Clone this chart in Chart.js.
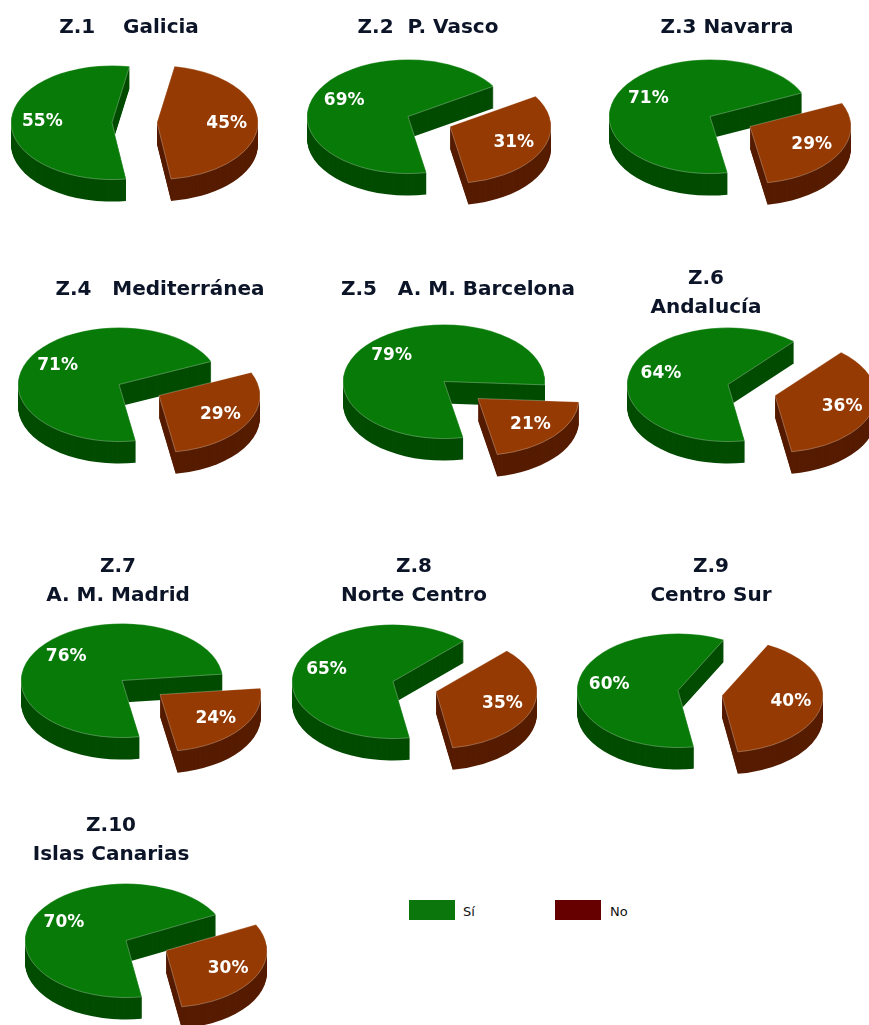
<!DOCTYPE html>
<html><head><meta charset="utf-8">
<script src="https://cdn.jsdelivr.net/npm/chart.js@4"></script>
<style>
html,body{margin:0;padding:0;background:#fff;width:869px;height:1025px;overflow:hidden}
canvas{position:absolute;filter:blur(0.45px)}
.lg{position:absolute;top:900px;width:46px;height:20px;filter:blur(0.4px)}
.lt{position:absolute;top:902px;font:13px/20px "DejaVu Sans",sans-serif;color:#111}
</style></head><body>
<div class="lg" style="left:409px;background:#0b760b"></div><div class="lt" style="left:463px">Sí</div>
<div class="lg" style="left:555px;background:#660000"></div><div class="lt" style="left:610px">No</div>
<script>
const categories = ["Sí", "No"];
const siValues = [55, 69, 71, 71, 79, 64, 76, 65, 60, 70];
const noValues = [45, 31, 29, 29, 21, 36, 24, 35, 40, 30];
const titles = [
  "Z.1    Galicia", "Z.2  P. Vasco", "Z.3 Navarra", "Z.4   Mediterránea", "Z.5   A. M. Barcelona",
  ["Z.6", "Andalucía"], ["Z.7", "A. M. Madrid"], ["Z.8", "Norte Centro"], ["Z.9", "Centro Sur"], ["Z.10", "Islas Canarias"]
];
// Layout: rotation of the first slice, slice anchors, title anchors
const rotations = [172, 169.5, 170, 170.5, 169, 170.5, 170, 170.5, 171, 171];
const siAnchors = [[112,122],[408,116],[710,116],[119,384],[444,381],[728,384],[122,680],[393,681],[678,690],[126,940]];
const noAnchors = [[157,122],[450,126],[750,126],[159,395],[478,398],[775,395],[160,694],[436,691],[722,695],[166,950]];
const titleX = [129,428,727,160,458,706,118,414,711,111];
const titleY = [27,27,27,289,289,278,566,566,566,825];

const R = 101, SQUASH = 0.565, DEPTH = 22, W = 340, H = 250;
const TOP = ["#087a08", "#953a02"], SIDE = ["#024c02", "#561c00"];
const FONT = '"DejaVu Sans", sans-serif';

function wedge(ctx, arc, ox, oy) {
  ctx.save();
  ctx.translate(ox, oy);
  ctx.scale(1, SQUASH);
  ctx.beginPath();
  ctx.moveTo(0, 0);
  ctx.arc(0, 0, arc.outerRadius, arc.startAngle, arc.endAngle);
  ctx.closePath();
  ctx.restore();
}

const pie3d = {
  id: "pie3d",
  beforeDatasetsDraw(chart, args, opts) {
    const ctx = chart.ctx, arcs = chart.getDatasetMeta(0).data;
    const anchors = opts.anchors.map(a => [a[0] - opts.left, a[1] - opts.top]);
    arcs.forEach((arc, i) => {
      const [ax, ay] = anchors[i];
      ctx.fillStyle = SIDE[i];
      for (let d = DEPTH; d >= 1; d--) { wedge(ctx, arc, ax, ay + d); ctx.fill(); }
      wedge(ctx, arc, ax, ay);
      ctx.fillStyle = TOP[i];
      ctx.fill();
      ctx.lineWidth = 1;
      ctx.strokeStyle = "rgba(255,255,255,0.28)";
      ctx.stroke();
    });
    arcs.forEach((arc, i) => {
      const [ax, ay] = anchors[i];
      const mid = (arc.startAngle + arc.endAngle) / 2, r = arc.outerRadius * 0.69;
      ctx.font = "bold 17px " + FONT;
      ctx.fillStyle = "#fff";
      ctx.textAlign = "center";
      ctx.textBaseline = "middle";
      ctx.fillText(chart.data.datasets[0].data[i] + "%", ax + Math.cos(mid) * r, ay + Math.sin(mid) * r * SQUASH);
    });
    return false;
  }
};

titles.forEach((t, i) => {
  const c = document.createElement("canvas");
  c.width = W; c.height = H;
  const left = titleX[i] - W / 2, top = titleY[i] - 14.5;
  c.style.left = left + "px"; c.style.top = top + "px";
  c.style.width = W + "px"; c.style.height = H + "px";
  document.body.appendChild(c);
  new Chart(c, {
    type: "pie",
    data: { labels: categories, datasets: [{ data: [siValues[i], noValues[i]], backgroundColor: TOP, borderWidth: 0 }] },
    options: {
      responsive: false, animation: false, radius: R, rotation: rotations[i],
      layout: { padding: 0 },
      plugins: {
        legend: { display: false }, tooltip: { enabled: false },
        title: { display: true, text: t, color: "#0c1428", padding: 0,
          font: { family: FONT, size: 20, weight: "bold", lineHeight: 1.45 } },
        pie3d: { anchors: [siAnchors[i], noAnchors[i]], left, top }
      }
    },
    plugins: [pie3d]
  });
});
</script></body></html>
